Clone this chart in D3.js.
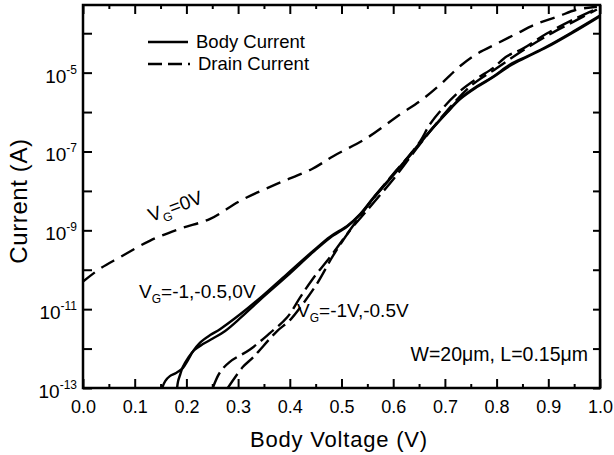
<!DOCTYPE html>
<html>
<head>
<script src="https://d3js.org/d3.v7.min.js"></script>
<style>
  body { margin: 0; background: #fff; }
  text { font-family: "Liberation Sans", Arial, sans-serif; fill: #000; }
</style>
</head>
<body>
<div id="vis"></div>
<script>
// body current, VG = -1, -0.5, 0 V (two visible solid traces)
const bodyA_V = [0.153, 0.159, 0.168, 0.180, 0.193, 0.203, 0.213, 0.226, 0.246, 0.265, 0.304, 0.342, 0.395, 0.445, 0.478, 0.511, 0.536, 0.561, 0.594, 0.638, 0.671, 0.704, 0.729, 0.762, 0.793, 0.826, 0.859, 0.897, 0.948, 1.0];
const bodyA_I = [1.0e-13, 1.5e-13, 2.0e-13, 2.4e-13, 3.2e-13, 5.1e-13, 8.6e-13, 1.4e-12, 2.2e-12, 3.1e-12, 7.4e-12, 1.9e-11, 7.9e-11, 3.0e-10, 6.9e-10, 1.3e-9, 2.6e-9, 6.6e-9, 2.1e-8, 1.0e-7, 3.3e-7, 1.0e-6, 2.2e-6, 4.5e-6, 7.9e-6, 1.6e-5, 2.6e-5, 4.6e-5, 1.1e-4, 2.8e-4];

const bodyB_V = [0.182, 0.184, 0.188, 0.193, 0.203, 0.215, 0.232, 0.251, 0.275, 0.304, 0.342, 0.395, 0.445, 0.478, 0.511, 0.536, 0.561, 0.594, 0.638, 0.671, 0.704, 0.729, 0.762, 0.793, 0.826, 0.859, 0.897, 0.948, 1.0];
const bodyB_I = [1.0e-13, 1.5e-13, 2.2e-13, 3.4e-13, 5.7e-13, 9.1e-13, 1.3e-12, 1.8e-12, 2.8e-12, 5.9e-12, 1.7e-11, 7.0e-11, 2.8e-10, 6.5e-10, 1.25e-9, 2.5e-9, 6.3e-9, 2.0e-8, 9.6e-8, 3.2e-7, 9.6e-7, 2.1e-6, 4.3e-6, 7.6e-6, 1.5e-5, 2.5e-5, 4.4e-5, 1.05e-4, 2.7e-4];

// drain current, VG = 0 V
const drain0_V = [0.0, 0.033, 0.072, 0.130, 0.188, 0.246, 0.304, 0.375, 0.443, 0.484, 0.549, 0.613, 0.652, 0.691, 0.729, 0.762, 0.801, 0.839, 0.878, 0.917, 0.956, 0.994];
const drain0_I = [5.0e-11, 1.07e-10, 2.1e-10, 5.5e-10, 1.1e-9, 1.95e-9, 5.6e-9, 1.5e-8, 3.6e-8, 7.6e-8, 2.2e-7, 8.7e-7, 1.9e-6, 5.0e-6, 1.45e-5, 3.0e-5, 5.5e-5, 9.8e-5, 1.74e-4, 2.6e-4, 4.0e-4, 4.7e-4];

// drain current, VG = -1 V
const drain1_V = [0.251, 0.265, 0.284, 0.323, 0.362, 0.395, 0.420, 0.445, 0.478, 0.507, 0.536, 0.565, 0.600, 0.627, 0.652, 0.671, 0.696, 0.729, 0.762, 0.793, 0.820, 0.850, 0.897, 0.948, 0.994];
const drain1_I = [1.0e-13, 2.5e-13, 4.6e-13, 9.5e-13, 2.5e-12, 6.2e-12, 2.0e-11, 6.0e-11, 2.1e-10, 6.9e-10, 2.3e-9, 7.4e-9, 2.7e-8, 6.8e-8, 1.8e-7, 4.9e-7, 1.26e-6, 3.4e-6, 7.1e-6, 1.3e-5, 2.6e-5, 4.0e-5, 9.8e-5, 2.2e-4, 4.2e-4];

// drain current, VG = -0.5 V
const drain2_V = [0.280, 0.309, 0.329, 0.375, 0.400, 0.426, 0.453, 0.484, 0.516, 0.545, 0.603, 0.652, 0.700, 0.749, 0.800, 0.850, 0.900, 0.950, 0.994];
const drain2_I = [1.0e-13, 3.4e-13, 6.0e-13, 2.75e-12, 5.2e-12, 1.4e-11, 4.5e-11, 2.3e-10, 9.8e-10, 2.75e-9, 2.2e-8, 1.55e-7, 9.3e-7, 4.5e-6, 1.3e-5, 3.6e-5, 9.0e-5, 2.0e-4, 4.0e-4];

const xTicks = [0.0, 0.1, 0.2, 0.3, 0.4, 0.5, 0.6, 0.7, 0.8, 0.9, 1.0];
const xTickLabels = ["0.0", "0.1", "0.2", "0.3", "0.4", "0.5", "0.6", "0.7", "0.8", "0.9", "1.0"];
const xMinor = [0.05, 0.15, 0.25, 0.35, 0.45, 0.55, 0.65, 0.75, 0.85, 0.95];
const yDecades = [1e-13, 1e-12, 1e-11, 1e-10, 1e-9, 1e-8, 1e-7, 1e-6, 1e-5, 1e-4];
const yLabelExps = [-13, -11, -9, -7, -5];

const width = 614, height = 455;
const padL = 83, padR = 600, padT = 5, padB = 388;

const svg = d3.select('#vis').append('svg')
  .attr('width', width)
  .attr('height', height);

const x = d3.scaleLinear().domain([0, 1]).range([padL, padR]);
const y = d3.scaleLog().domain([1e-13, 5.2e-4]).range([padB, padT]);

function zip(vs, is) {
  return vs.map((v, i) => ({ v: v, i: is[i] }));
}

const line = d3.line()
  .x(d => x(d.v))
  .y(d => y(d.i))
  .curve(d3.curveCatmullRom.alpha(0.5));

const series = [
  { data: zip(drain0_V, drain0_I), dash: '15,8' },
  { data: zip(drain1_V, drain1_I), dash: '17,6' },
  { data: zip(drain2_V, drain2_I), dash: '17,6' },
  { data: zip(bodyA_V, bodyA_I), dash: null },
  { data: zip(bodyB_V, bodyB_I), dash: null }
];

svg.append('clipPath').attr('id', 'clip')
  .append('rect')
  .attr('x', padL).attr('y', padT)
  .attr('width', padR - padL).attr('height', padB - padT);

svg.append('g').attr('clip-path', 'url(#clip)')
  .selectAll('path')
  .data(series)
  .enter()
  .append('path')
  .attr('d', d => line(d.data))
  .attr('fill', 'none')
  .attr('stroke', '#000')
  .attr('stroke-width', 2.4)
  .attr('stroke-dasharray', d => d.dash);

// axes, ticks pointing inward
function noDomain(g) { g.select('.domain').remove(); }

svg.append('g')
  .attr('transform', `translate(0,${padB})`)
  .call(d3.axisBottom(x).tickValues(xTicks).tickSize(-9).tickPadding(12)
    .tickFormat((d, i) => xTickLabels[i]))
  .call(noDomain)
  .call(g => g.selectAll('text').attr('font-size', 18).attr('font-family', '"Liberation Sans", Arial, sans-serif'));

svg.append('g')
  .attr('transform', `translate(0,${padB})`)
  .call(d3.axisBottom(x).tickValues(xMinor).tickSize(-4).tickFormat(''))
  .call(noDomain);

svg.append('g')
  .attr('transform', `translate(0,${padT})`)
  .call(d3.axisTop(x).tickValues(xTicks).tickSize(-9).tickFormat(''))
  .call(noDomain);

svg.append('g')
  .attr('transform', `translate(0,${padT})`)
  .call(d3.axisTop(x).tickValues(xMinor).tickSize(-4).tickFormat(''))
  .call(noDomain);

svg.append('g')
  .attr('transform', `translate(${padL},0)`)
  .call(d3.axisLeft(y).tickValues(yDecades).tickSize(-9).tickFormat(''))
  .call(noDomain);

svg.append('g')
  .attr('transform', `translate(${padR},0)`)
  .call(d3.axisRight(y).tickValues(yDecades).tickSize(-7).tickFormat(''))
  .call(noDomain);

svg.selectAll('.tick line').attr('stroke', '#000').attr('stroke-width', 2);

// y tick labels with superscripts
const yl = svg.append('g').selectAll('text')
  .data(yLabelExps)
  .enter()
  .append('text')
  .attr('x', 77)
  .attr('y', d => y(Math.pow(10, d)) + 10)
  .attr('text-anchor', 'end')
  .attr('font-size', 19);
yl.append('tspan').text('10');
yl.append('tspan').attr('dy', -9).attr('font-size', 12).text(d => d);

// frame
svg.append('rect')
  .attr('x', padL).attr('y', padT)
  .attr('width', padR - padL).attr('height', padB - padT)
  .attr('fill', 'none')
  .attr('stroke', '#000')
  .attr('stroke-width', 2.5);

// axis titles
svg.append('text')
  .attr('x', 339)
  .attr('y', 447)
  .attr('text-anchor', 'middle')
  .attr('font-size', 22)
  .attr('letter-spacing', 0.8)
  .text('Body Voltage (V)');

svg.append('text')
  .attr('transform', 'translate(27,201) rotate(-90)')
  .attr('text-anchor', 'middle')
  .attr('font-size', 24)
  .attr('letter-spacing', 0.6)
  .text('Current (A)');

// legend
const legend = svg.append('g');
legend.append('line')
  .attr('x1', 148).attr('x2', 188).attr('y1', 42).attr('y2', 42)
  .attr('stroke', '#000').attr('stroke-width', 2.4);
legend.append('text').attr('x', 196).attr('y', 48).attr('font-size', 18.5).text('Body Current');
legend.append('line')
  .attr('x1', 148).attr('x2', 190).attr('y1', 64).attr('y2', 64)
  .attr('stroke', '#000').attr('stroke-width', 2.4)
  .attr('stroke-dasharray', '14,6');
legend.append('text').attr('x', 198).attr('y', 70).attr('font-size', 18.5).text('Drain Current');

// annotations with VG subscript
function vgLabel(px, py, rest, angle) {
  const t = svg.append('text')
    .attr('transform', `translate(${px},${py}) rotate(${angle || 0})`)
    .attr('font-size', 19);
  t.append('tspan').text('V');
  t.append('tspan').attr('dy', 5).attr('font-size', 12).text('G');
  t.append('tspan').attr('dy', -5).text(rest);
}
vgLabel(151, 222, '=0V', -20);
vgLabel(139, 298, '=-1,-0.5,0V');
vgLabel(297, 317, '=-1V,-0.5V');

svg.append('text')
  .attr('x', 588).attr('y', 361)
  .attr('text-anchor', 'end')
  .attr('font-size', 19.5)
  .text('W=20\u03bcm, L=0.15\u03bcm');
</script>
</body>
</html>
